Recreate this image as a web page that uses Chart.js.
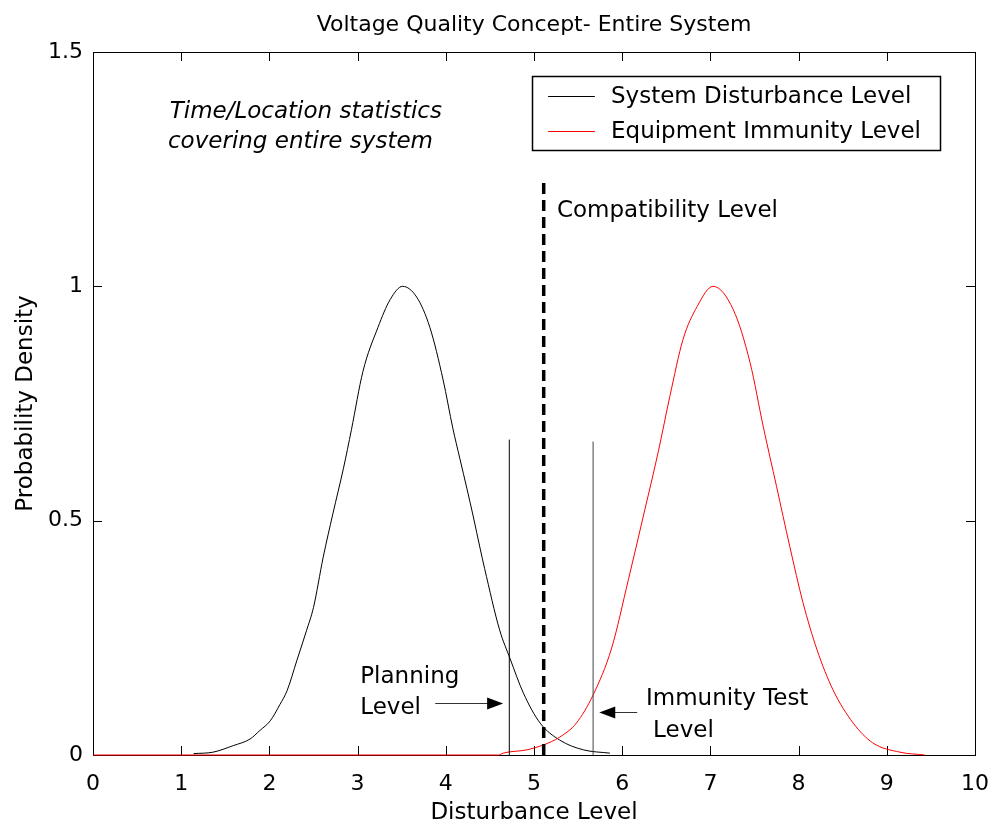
<!DOCTYPE html>
<html>
<head>
<meta charset="utf-8">
<script src="https://cdn.jsdelivr.net/npm/chart.js@4/dist/chart.umd.min.js"></script>
<style>
  body { margin: 0; background: #fff; }
  #wrap { width: 1000px; height: 827px; position: relative; }
</style>
</head>
<body>
<div id="wrap"><canvas id="myChart"></canvas></div>
<script>
// System disturbance level curve
const sysX = [1.14, 1.36, 1.59, 1.78, 1.89, 2.01, 2.12, 2.20, 2.31, 2.42, 2.50, 2.61, 2.72, 2.84, 2.93, 3.06, 3.23, 3.37, 3.51,
  3.67, 3.82, 3.97, 4.08, 4.16, 4.24, 4.31, 4.39, 4.44, 4.61, 4.73, 4.88, 5.07, 5.29, 5.56, 5.86];
const sysY = [0.003, 0.006, 0.020, 0.034, 0.052, 0.073, 0.108, 0.137, 0.201, 0.265, 0.315, 0.422, 0.515, 0.612, 0.694, 0.818, 0.912, 0.972, 1.0,
  0.977, 0.912, 0.80, 0.697, 0.632, 0.568, 0.51, 0.44, 0.398, 0.267, 0.205, 0.132, 0.068, 0.032, 0.011, 0.004];

// Equipment immunity level curve
const eqX = [0, 4.60, 4.65, 4.92, 5.10, 5.29, 5.48, 5.67, 5.88, 6.07, 6.24, 6.41, 6.54, 6.69, 6.85, 7.03,
  7.26, 7.45, 7.60, 7.75, 7.90, 8.05, 8.21, 8.39, 8.62, 8.84, 9.15, 9.43];
const eqY = [0, 0, 0.004, 0.011, 0.021, 0.038, 0.068, 0.128, 0.228, 0.374, 0.51, 0.648, 0.765, 0.887, 0.957, 1.0,
  0.95, 0.837, 0.70, 0.573, 0.445, 0.325, 0.224, 0.139, 0.068, 0.026, 0.006, 0];

// vertical marker levels
const planningLevel = 4.72, planningTop = 0.673;
const compatLevel = 5.11, compatTop = 1.222;
const immunityLevel = 5.67, immunityTop = 0.669;

const xTicks = [0, 1, 2, 3, 4, 5, 6, 7, 8, 9, 10];
const yTicks = [0, 0.5, 1, 1.5];

const legendLabels = ['System Disturbance Level', 'Equipment Immunity Level'];
const legendColors = ['#000000', '#ff0000'];

const FONT = '"DejaVu Sans", sans-serif';

const toPts = (xs, ys) => xs.map((x, i) => ({x: x, y: ys[i]}));

// extra drawing: box, inward ticks, texts, arrows, legend
const decorations = {
  id: 'decorations',
  beforeDatasetsDraw(chart) {
    const {ctx, chartArea: a, scales: {x, y}} = chart;
    ctx.save();
    ctx.strokeStyle = '#000';
    ctx.lineWidth = 1;
    ctx.strokeRect(a.left + 0.5, a.top + 0.5, a.right - a.left, a.bottom - a.top);
    ctx.beginPath();
    xTicks.forEach(v => {
      const px = Math.round(x.getPixelForValue(v)) + 0.5;
      ctx.moveTo(px, a.bottom); ctx.lineTo(px, a.bottom - 9);
      ctx.moveTo(px, a.top); ctx.lineTo(px, a.top + 9);
    });
    yTicks.forEach(v => {
      const py = Math.round(y.getPixelForValue(v)) + 0.5;
      ctx.moveTo(a.left, py); ctx.lineTo(a.left + 9, py);
      ctx.moveTo(a.right, py); ctx.lineTo(a.right - 9, py);
    });
    ctx.stroke();
    ctx.restore();
  },
  afterDatasetsDraw(chart) {
    const {ctx, chartArea: a, scales: {x, y}} = chart;
    const X = v => x.getPixelForValue(v);
    const Y = v => y.getPixelForValue(v);
    ctx.save();
    ctx.fillStyle = '#000';
    ctx.textBaseline = 'alphabetic';

    // title
    ctx.font = '22px ' + FONT;
    ctx.textAlign = 'center';
    ctx.fillText('Voltage Quality Concept- Entire System', (a.left + a.right) / 2, 31);

    ctx.textAlign = 'left';
    ctx.font = 'italic 23px ' + FONT;
    ctx.fillText('Time/Location statistics', X(0.87), Y(1.359));
    ctx.fillText('covering entire system', X(0.85), Y(1.295));

    ctx.font = '23px ' + FONT;
    ctx.fillText('Compatibility Level', X(5.26), Y(1.148));
    ctx.fillText('Planning', X(3.03), Y(0.154));
    ctx.fillText('Level', X(3.03), Y(0.0875));
    ctx.fillText('Immunity Test', X(6.27), Y(0.107));
    ctx.fillText('Level', X(6.35), Y(0.038));

    // arrows
    const arrow = (x0, x1, yv) => {
      const py = Math.round(Y(yv)) + 0.5, p0 = X(x0), p1 = X(x1);
      const dir = p1 > p0 ? 1 : -1;
      ctx.strokeStyle = '#333';
      ctx.lineWidth = 1;
      ctx.beginPath(); ctx.moveTo(p0, py); ctx.lineTo(p1 - dir * 14, py); ctx.stroke();
      ctx.fillStyle = '#000';
      ctx.beginPath();
      ctx.moveTo(p1, py); ctx.lineTo(p1 - dir * 16, py - 6); ctx.lineTo(p1 - dir * 16, py + 6);
      ctx.closePath(); ctx.fill();
    };
    arrow(3.88, 4.65, 0.111);
    arrow(6.17, 5.74, 0.092);

    // legend box
    const lx0 = X(4.977), lx1 = X(9.603), ly0 = Y(1.449), ly1 = Y(1.291);
    ctx.fillStyle = '#fff';
    ctx.fillRect(lx0, ly0, lx1 - lx0, ly1 - ly0);
    ctx.strokeStyle = '#000';
    ctx.lineWidth = 1.5;
    ctx.strokeRect(Math.round(lx0) + 0.5, Math.round(ly0) + 0.5, Math.round(lx1 - lx0), Math.round(ly1 - ly0));
    ctx.font = '23px ' + FONT;
    ctx.textBaseline = 'middle';
    const rows = [1.406, 1.331];
    legendLabels.forEach((lab, i) => {
      const py = Math.round(Y(rows[i])) + 0.5;
      ctx.strokeStyle = legendColors[i];
      ctx.lineWidth = 1.2;
      ctx.beginPath(); ctx.moveTo(X(5.16), py); ctx.lineTo(X(5.69), py); ctx.stroke();
      ctx.fillStyle = '#000';
      ctx.fillText(lab, X(5.873), py + 1);
    });
    ctx.restore();
  }
};

const ctx = document.getElementById('myChart').getContext('2d');
const chartJS = new Chart(ctx, {
  type: 'scatter',
  data: {
    datasets: [
      { // compatibility level (dashed)
        data: toPts([compatLevel, compatLevel], [0, compatTop]),
        borderColor: '#000', borderWidth: 3.5, borderDash: [11, 6], order: 0
      },
      {
        data: toPts([planningLevel, planningLevel], [0, planningTop]),
        borderColor: '#000', borderWidth: 1, order: 1
      },
      {
        data: toPts([immunityLevel, immunityLevel], [0, immunityTop]),
        borderColor: '#444', borderWidth: 1, order: 1
      },
      {
        label: legendLabels[1],
        data: toPts(eqX, eqY),
        borderColor: legendColors[1], borderWidth: 1,
        cubicInterpolationMode: 'monotone', order: 2
      },
      {
        label: legendLabels[0],
        data: toPts(sysX, sysY),
        borderColor: legendColors[0], borderWidth: 1,
        cubicInterpolationMode: 'monotone', order: 3
      }
    ].map(d => Object.assign({showLine: true, pointRadius: 0, fill: false, clip: 6}, d))
  },
  options: {
    responsive: true,
    maintainAspectRatio: false,
    animation: false,
    events: [],
    layout: { padding: { top: 52, right: 25, left: 0, bottom: 0 } },
    plugins: { legend: { display: false }, tooltip: { enabled: false }, title: { display: false } },
    scales: {
      x: {
        type: 'linear', min: 0, max: 10,
        afterFit: s => { s.height = 72; },
        afterBuildTicks: s => { s.ticks = xTicks.map(v => ({value: v})); },
        grid: { display: false }, border: { display: false },
        ticks: { color: '#000', font: { family: FONT, size: 22 }, padding: 8, callback: v => String(v) },
        title: { display: true, text: 'Disturbance Level', color: '#000',
          font: { family: FONT, size: 23 }, padding: { top: 0, bottom: 0 } }
      },
      y: {
        type: 'linear', min: 0, max: 1.5,
        afterFit: s => { s.width = 93; },
        afterBuildTicks: s => { s.ticks = yTicks.map(v => ({value: v})); },
        grid: { display: false, drawTicks: false }, border: { display: false },
        ticks: { color: '#000', font: { family: FONT, size: 22 }, padding: 10, callback: v => String(v) },
        title: { display: true, text: 'Probability Density', color: '#000',
          font: { family: FONT, size: 23 }, padding: { top: 12, bottom: 0 } }
      }
    }
  },
  plugins: [decorations]
});
</script>
</body>
</html>
